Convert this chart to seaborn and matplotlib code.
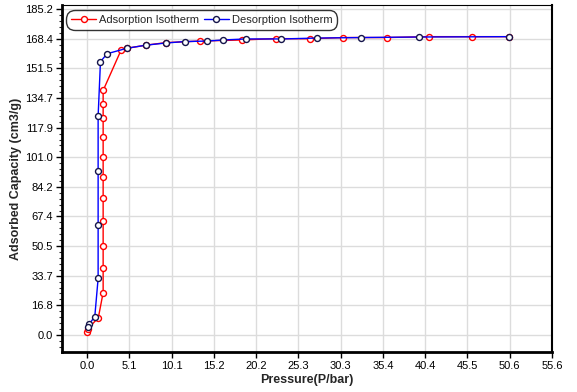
import numpy as np
import pandas as pd
import matplotlib
matplotlib.use("Agg")
import matplotlib.pyplot as plt
import seaborn as sns
from matplotlib.ticker import AutoMinorLocator

sns.set_style("white")
plt.rcParams['font.family'] = ['Liberation Sans', 'DejaVu Sans']

# Adsorption isotherm
ads_p = [0.0, 0.1, 1.35, 1.92, 1.92, 1.92, 1.92, 1.92, 1.92, 1.92, 1.92, 1.92,
         1.92, 1.92, 4.07, 4.76, 7.1, 9.4, 13.5, 18.5, 22.6, 26.6, 30.6, 35.9,
         40.9, 46.05, 50.4]
ads_v = [1.9, 3.4, 9.9, 24.1, 37.8, 50.7, 64.6, 77.8, 89.7, 101.0, 112.6, 123.1,
         131.5, 139.0, 162.0, 163.0, 164.8, 166.2, 167.1, 167.7, 168.5, 168.4,
         169.1, 169.1, 169.6, 169.6, 169.6]

# Desorption isotherm
des_p = [50.4, 39.7, 32.7, 27.5, 23.25, 18.97, 16.26, 14.3, 11.66, 9.43, 7.1,
         4.76, 2.4, 1.6, 1.32, 1.32, 1.32, 1.32, 0.92, 0.25, 0.05]
des_v = [169.6, 169.4, 169.1, 168.8, 168.3, 168.3, 167.7, 167.1, 166.8, 166.0,
         164.8, 163.0, 159.9, 155.4, 124.4, 93.0, 62.4, 32.1, 10.4, 6.2, 4.5]

x_ticks = [0.0, 5.1, 10.1, 15.2, 20.2, 25.3, 30.3, 35.4, 40.4, 45.5, 50.6, 55.6]
y_ticks = [0.0, 16.8, 33.7, 50.5, 67.4, 84.2, 101.0, 117.9, 134.7, 151.5, 168.4, 185.2]

ads = pd.DataFrame({'p': ads_p, 'v': ads_v})
des = pd.DataFrame({'p': des_p, 'v': des_v})

fig = plt.figure(figsize=(5.77, 3.92), dpi=100)
ax = fig.add_axes([62 / 577, 40 / 392, 490 / 577, 347 / 392])

sns.lineplot(data=ads, x='p', y='v', sort=False, estimator=None, ax=ax,
             color='#ff0000', linewidth=1, marker='o', markersize=4.3,
             markerfacecolor='white', markeredgecolor='#ff0000',
             markeredgewidth=1, label='Adsorption Isotherm')
sns.lineplot(data=des, x='p', y='v', sort=False, estimator=None, ax=ax,
             color='#0000ff', linewidth=1, marker='o', markersize=4.3,
             markerfacecolor='white', markeredgecolor='#14144a',
             markeredgewidth=1, label='Desorption Isotherm')

ax.set_xlim(-3.0, 55.6)
ax.set_ylim(-9.7, 187.6)
ax.set_xticks([i * 55.6 / 11 for i in range(12)])
ax.set_xticklabels([f"{t:.1f}" for t in x_ticks])
ax.set_yticks([i * 185.2 / 11 for i in range(12)])
ax.set_yticklabels([f"{t:.1f}" for t in y_ticks])
ax.yaxis.set_minor_locator(AutoMinorLocator(5))

ax.grid(True, which='major', color='#dcdcdc', linewidth=1)
ax.set_axisbelow(True)
ax.tick_params(axis='both', which='major', direction='out', length=4,
               width=1, labelsize=8, colors='black', pad=2.5)
ax.tick_params(axis='y', which='minor', direction='out', length=2,
               width=0.8, left=True)
ax.tick_params(axis='x', which='major', bottom=True)
ax.tick_params(axis='y', which='major', left=True)

for side in ['left', 'bottom']:
    ax.spines[side].set_linewidth(2)
    ax.spines[side].set_color('black')
ax.spines['right'].set_linewidth(1.5)
ax.spines['right'].set_color('black')
ax.spines['top'].set_linewidth(0.8)
ax.spines['top'].set_color('black')

ax.set_xlabel("Pressure(P/bar)", fontsize=9, fontweight='bold', labelpad=2)
ax.set_ylabel("Adsorbed Capacity (cm3/g)", fontsize=9, fontweight='bold',
              labelpad=2)

leg = ax.legend(loc='upper left', ncol=2, fontsize=8, frameon=True,
                fancybox=True, edgecolor='black', borderpad=0.25,
                handlelength=2.2, handletextpad=0.3, columnspacing=0.45,
                bbox_to_anchor=(0.002, 0.995))
leg.get_frame().set_linewidth(1)
leg.get_frame().set_boxstyle('round,pad=0.2,rounding_size=0.8')

fig.savefig("out.png", dpi=100)
plt.close()
